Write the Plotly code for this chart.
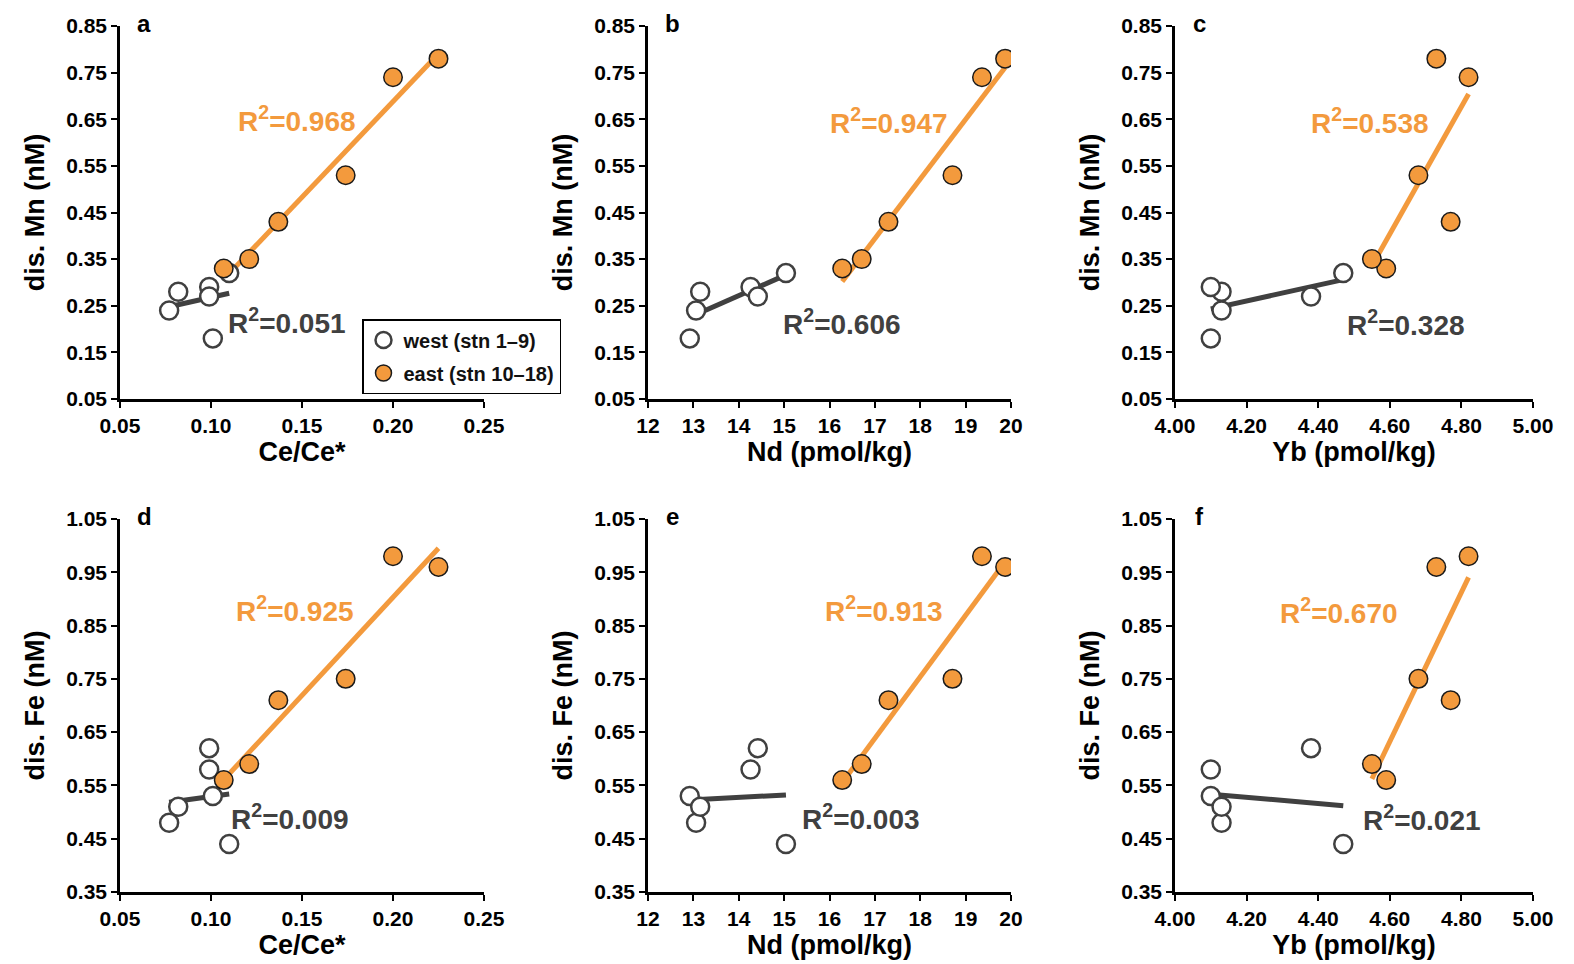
import numpy as np
import plotly.graph_objects as go
from plotly.subplots import make_subplots

# ---- data ----
ce_west = [0.101, 0.077, 0.082, 0.099, 0.099, 0.110]
nd_west = [12.92, 13.06, 13.15, 14.26, 14.42, 15.04]
yb_west = [4.10, 4.13, 4.13, 4.10, 4.38, 4.47]
mn_west = [0.18, 0.24, 0.28, 0.29, 0.27, 0.32]
fe_west = [0.53, 0.48, 0.51, 0.58, 0.62, 0.44]

ce_east = [0.107, 0.121, 0.137, 0.174, 0.200, 0.225]
nd_east = [16.28, 16.71, 17.30, 18.71, 19.36, 19.87]
yb_east = [4.59, 4.55, 4.77, 4.68, 4.82, 4.73]
mn_east = [0.33, 0.35, 0.43, 0.53, 0.74, 0.78]
fe_east = [0.56, 0.59, 0.71, 0.75, 0.98, 0.96]

r2_east = ["0.968", "0.947", "0.538", "0.925", "0.913", "0.670"]
r2_west = ["0.051", "0.606", "0.328", "0.009", "0.003", "0.021"]
panel_labels = ["a", "b", "c", "d", "e", "f"]
x_titles = ["Ce/Ce*", "Nd (pmol/kg)", "Yb (pmol/kg)"]
y_titles = ["dis. Mn (nM)", "dis. Fe (nM)"]
legend_names = ["west (stn 1\u20139)", "east (stn 10\u201318)"]

ORANGE = "#F39A3D"
GRAY = "#404040"
FONT = "Liberation Sans, Arial, sans-serif"

fig = make_subplots(rows=2, cols=3)

xw = [ce_west, nd_west, yb_west]
xe = [ce_east, nd_east, yb_east]
yw = [mn_west, fe_west]
ye = [mn_east, fe_east]

for r in range(2):
    for c in range(3):
        xs_w, ys_w = np.array(xw[c]), np.array(yw[r])
        xs_e, ys_e = np.array(xe[c]), np.array(ye[r])
        # trend lines
        for xs, ys, col in [(xs_w, ys_w, GRAY), (xs_e, ys_e, ORANGE)]:
            m, b = np.polyfit(xs, ys, 1)
            lx = np.array([xs.min(), xs.max()])
            fig.add_trace(go.Scatter(x=lx, y=m * lx + b, mode="lines",
                                     line=dict(color=col, width=5),
                                     showlegend=False, hoverinfo="skip"),
                          row=r + 1, col=c + 1)
        first = (r == 0 and c == 0)
        fig.add_trace(go.Scatter(x=xs_w, y=ys_w, mode="markers", name=legend_names[0],
                                 legendgroup="w",
                                 marker=dict(size=18, color="white",
                                             line=dict(color=GRAY, width=2.5)),
                                 showlegend=first),
                      row=r + 1, col=c + 1)
        fig.add_trace(go.Scatter(x=xs_e, y=ys_e, mode="markers", name=legend_names[1],
                                 legendgroup="e",
                                 marker=dict(size=18.5, color=ORANGE,
                                             line=dict(color="#1a1a1a", width=1.5)),
                                 showlegend=first),
                      row=r + 1, col=c + 1)

W, H = 1574, 964
col_dom = [(120 / W, 484 / W), (648 / W, 1011 / W), (1175 / W, 1533 / W)]
row_dom = [(1 - 399 / H, 1 - 26 / H), (1 - 892 / H, 1 - 519 / H)]

x_ranges = [[0.05, 0.25], [12, 20], [4.0, 5.0]]
x_dticks = [0.05, 1, 0.2]
x_fmts = [".2f", "d", ".2f"]
y_ranges = [[0.05, 0.85], [0.35, 1.05]]

axis_common = dict(showline=True, linecolor="black", linewidth=2.5, ticks="outside",
                   ticklen=6, tickwidth=2, tickcolor="black", showgrid=False,
                   zeroline=False, automargin=False,
                   tickfont=dict(family=FONT, size=21, color="black", weight="bold"))

# annotation positions (data coords) for R2 labels
east_pos = [(0.1475, 0.65), (17.31, 0.647), (4.545, 0.646),
            (0.1462, 0.881), (17.20, 0.881), (4.458, 0.878)]
west_pos = [(0.1416, 0.217), (16.27, 0.216), (4.644, 0.213),
            (0.1433, 0.491), (16.70, 0.491), (4.690, 0.488)]

annotations = []
for r in range(2):
    for c in range(3):
        i = r * 3 + c
        xa = "xaxis" if i == 0 else f"xaxis{i + 1}"
        ya = "yaxis" if i == 0 else f"yaxis{i + 1}"
        xr = "x" if i == 0 else f"x{i + 1}"
        yr = "y" if i == 0 else f"y{i + 1}"
        fig.layout[xa].update(domain=col_dom[c], range=x_ranges[c], tick0=x_ranges[c][0],
                              dtick=x_dticks[c], tickformat=x_fmts[c],
                              title=dict(text=x_titles[c], standoff=4,
                                         font=dict(family=FONT, size=27, color="black",
                                                   weight="bold")),
                              **axis_common)
        fig.layout[ya].update(domain=row_dom[r], range=y_ranges[r], tick0=y_ranges[r][0],
                              dtick=0.1, tickformat=".2f",
                              title=dict(text=y_titles[r], standoff=14,
                                         font=dict(family=FONT, size=27, color="black",
                                                   weight="bold")),
                              **axis_common)
        annotations.append(dict(x=east_pos[i][0], y=east_pos[i][1], xref=xr, yref=yr,
                                text=f"R<sup>2</sup>={r2_east[i]}", showarrow=False,
                                font=dict(family=FONT, size=28, color=ORANGE, weight="bold")))
        annotations.append(dict(x=west_pos[i][0], y=west_pos[i][1], xref=xr, yref=yr,
                                text=f"R<sup>2</sup>={r2_west[i]}", showarrow=False,
                                font=dict(family=FONT, size=28, color=GRAY, weight="bold")))
        annotations.append(dict(x=0, y=1, xref=f"{xr} domain", yref=f"{yr} domain",
                                xshift=24, yshift=3, text=panel_labels[i], showarrow=False,
                                xanchor="center", yanchor="middle",
                                font=dict(family=FONT, size=24, color="black", weight="bold")))

fig.update_layout(
    width=W, height=H,
    margin=dict(l=0, r=0, t=0, b=0, autoexpand=False),
    plot_bgcolor="white", paper_bgcolor="white",
    annotations=annotations,
    legend=dict(x=362 / W, y=1 - 319 / H, xanchor="left", yanchor="top",
                bordercolor="black", borderwidth=1.5, bgcolor="white",
                traceorder="grouped", tracegroupgap=4,
                font=dict(family=FONT, size=20, color="#111111", weight="bold"),
                itemsizing="trace"),
)

fig.write_html("out.html")
